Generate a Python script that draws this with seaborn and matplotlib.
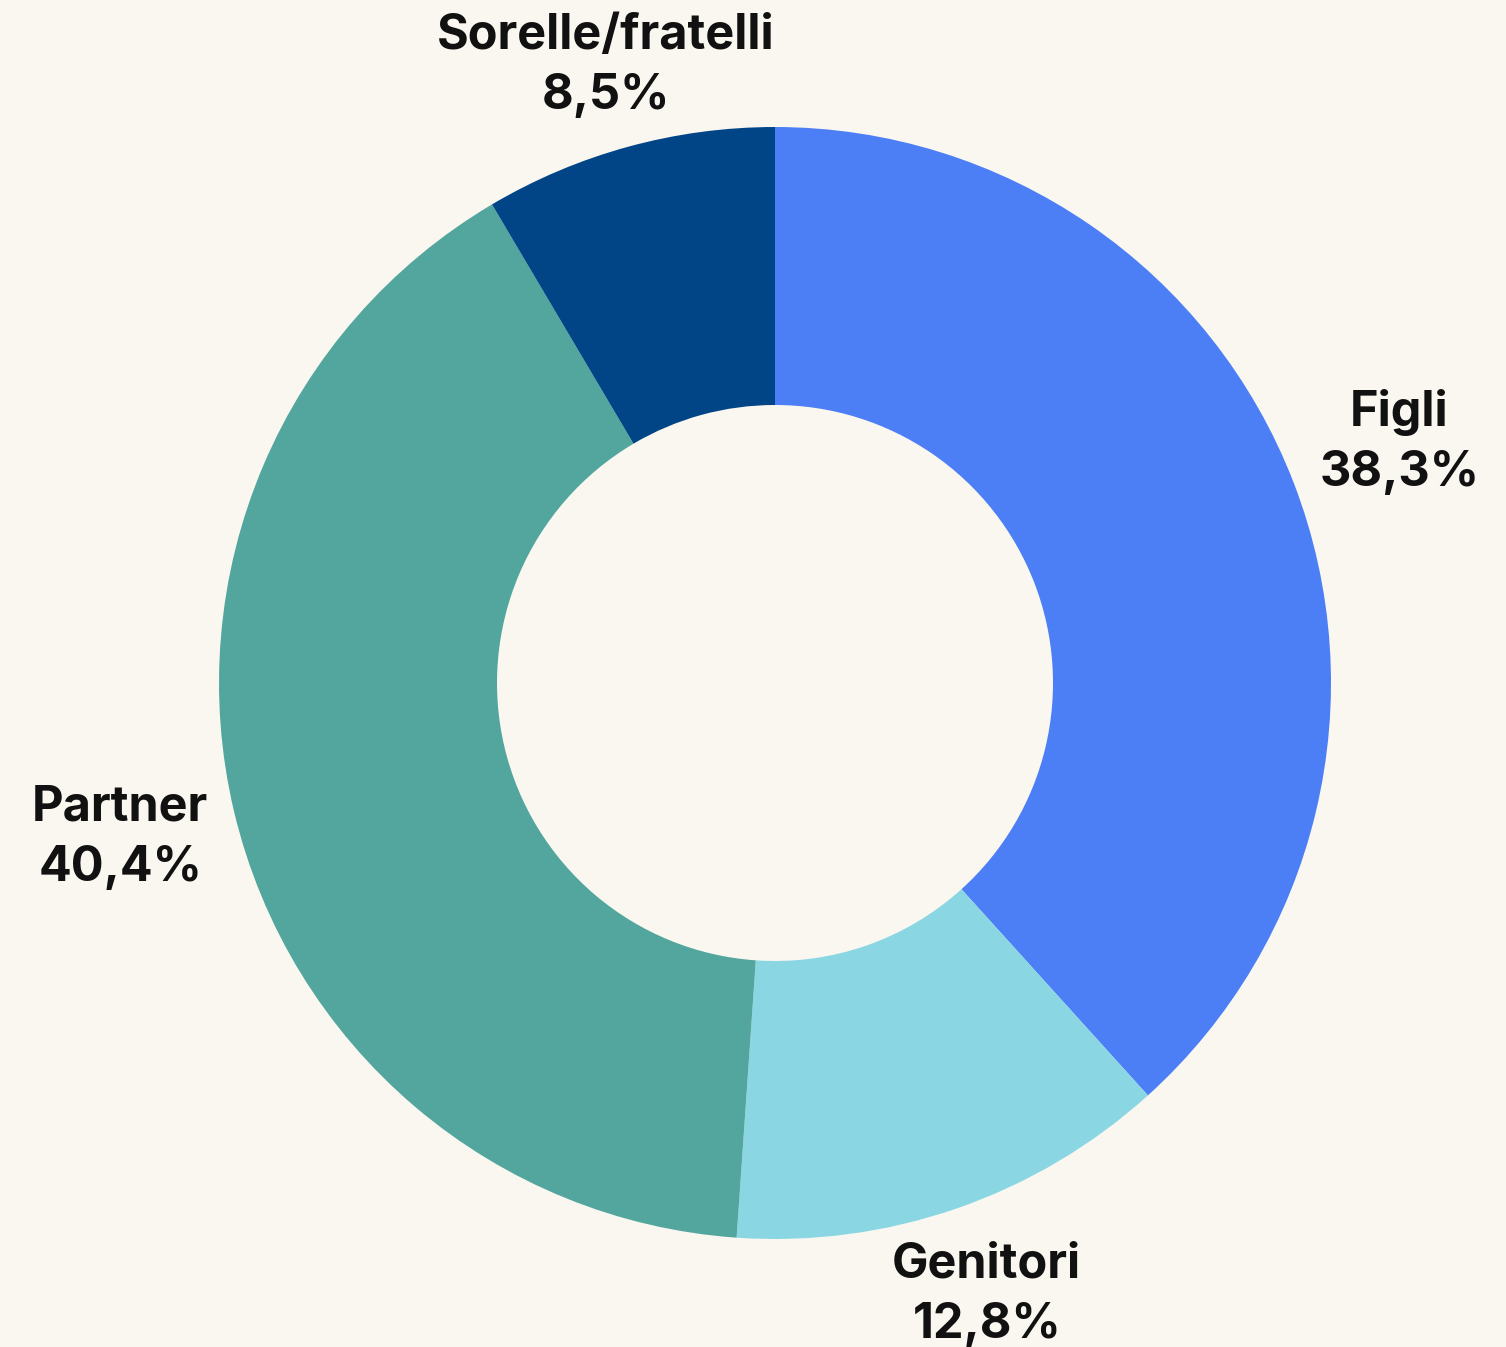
import numpy as np
import matplotlib
matplotlib.use("Agg")
import matplotlib.pyplot as plt
import seaborn as sns

categories = ["Figli", "Genitori", "Partner", "Sorelle/fratelli"]
values = [38.3, 12.8, 40.4, 8.5]
value_labels = ["38,3%", "12,8%", "40,4%", "8,5%"]

colors = ["#4C7FF5", "#8AD7E3", "#52A69E", "#024587"]
label_dist = [1.203, 1.165, 1.21, 1.151]
bg = "#FAF7F0"

sns.set_theme(style="white")
plt.rcParams["font.family"] = ["Inter", "DejaVu Sans"]

fig = plt.figure(figsize=(15.06, 13.47), dpi=100, facecolor=bg)
ax = fig.add_axes([0, 0, 1, 1])
ax.set_facecolor(bg)

labels = [f"{c}\n{v}" for c, v in zip(categories, value_labels)]
wedges, texts = ax.pie(
    values,
    labels=labels,
    colors=sns.color_palette(colors),
    startangle=90,
    counterclock=False,
    radius=1.0,
    labeldistance=1.2,
    wedgeprops=dict(width=0.5, edgecolor="none"),
    textprops=dict(fontsize=35, fontweight="bold", color="#111111", linespacing=1.4),
)
for w, t, d in zip(wedges, texts, label_dist):
    ang = np.deg2rad((w.theta1 + w.theta2) / 2)
    t.set_position((d * np.cos(ang), d * np.sin(ang)))
    t.set_ha("center")
    t.set_va("center")

ax.set_xlim(-775 / 556, (1506 - 775) / 556)
ax.set_ylim(-(1347 - 683) / 556, 683 / 556)
ax.set_aspect("equal")
ax.axis("off")

fig.savefig("out.png", dpi=100, facecolor=bg)
